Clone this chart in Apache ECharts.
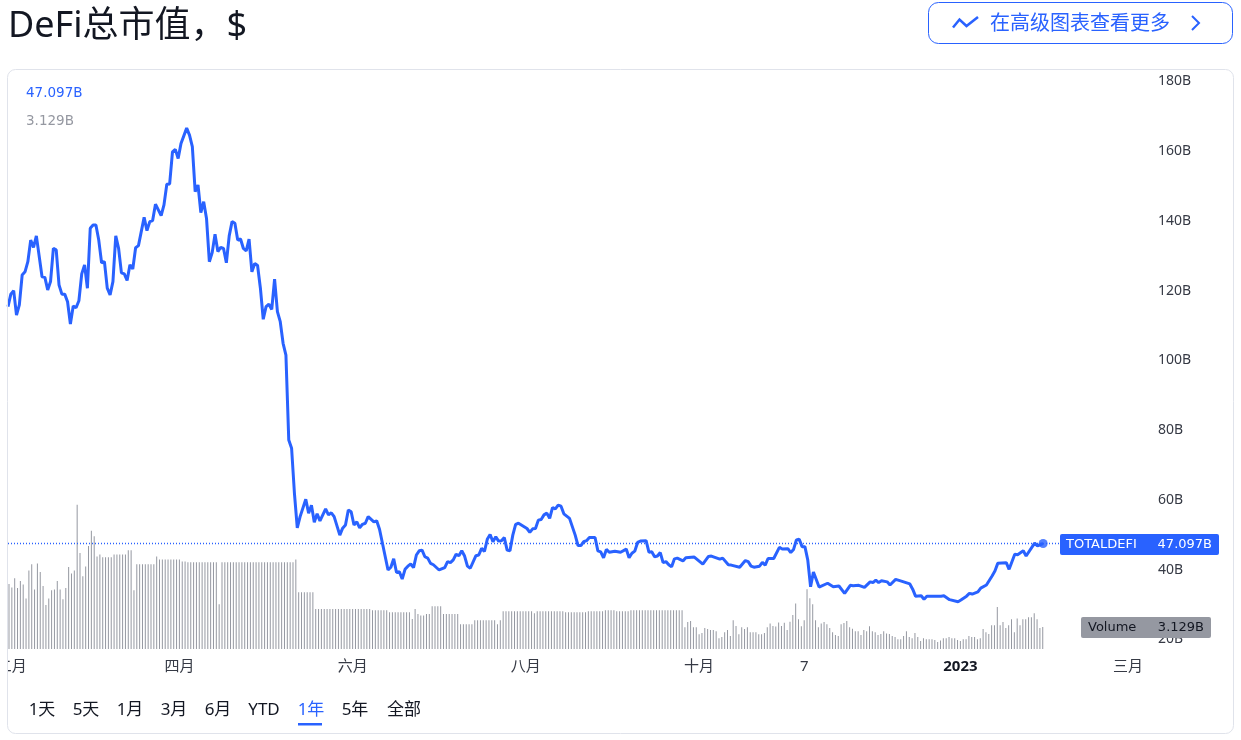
<!DOCTYPE html>
<html>
<head>
<meta charset="utf-8">
<title>DeFi总市值</title>
<script src="https://cdn.jsdelivr.net/npm/echarts@6/dist/echarts.min.js"></script>
<style>
html, body { margin: 0; padding: 0; background: #fff; }
#chart { width: 1241px; height: 740px; }
</style>
</head>
<body>
<div id="chart"></div>
<script>
// days since 30 Jan 2022 and TOTALDEFI value in billions at its turning points
var lineDays = [
    0, 1, 2, 3, 4, 5, 6, 7, 8, 9, 10, 12, 13, 14, 15, 16, 17, 18, 19, 20, 21, 22, 23, 24, 25, 26, 27, 28, 29, 30,
    31, 32, 33, 34, 35, 36, 37, 38, 39, 40, 41, 42, 43, 44, 45, 46, 48, 49, 50, 51, 52, 54, 55, 56, 57, 58, 59, 60, 61, 63,
    64, 65, 66, 67, 68, 69, 70, 71, 72, 73, 74, 75, 76, 77, 78, 79, 80, 81, 82, 83, 84, 85, 86, 87, 88, 89, 90, 91, 92, 93,
    94, 95, 96, 97, 98, 99, 100, 101, 102, 103, 105, 106, 107, 108, 109, 110, 112, 113, 114, 115, 117, 118, 119, 120, 121, 122, 123, 124, 125, 126,
    127, 129, 130, 131, 134, 135, 136, 137, 138, 139, 140, 141, 142, 143, 144, 145, 146, 147, 148, 149, 150, 152, 154, 155, 156, 157, 158, 159, 160, 161,
    162, 163, 165, 166, 167, 168, 169, 170, 171, 172, 173, 174, 175, 176, 177, 178, 179, 180, 182, 183, 184, 185, 186, 187, 188, 189, 190, 191, 192, 193,
    194, 195, 196, 198, 200, 201, 202, 203, 204, 205, 207, 208, 209, 210, 211, 212, 214, 216, 218, 219, 220, 221, 222, 223, 225, 226, 227, 228, 229, 230,
    231, 232, 233, 234, 235, 236, 238, 239, 242, 245, 247, 248, 251, 252, 254, 255, 258, 260, 261, 262, 263, 265, 266, 267, 268, 270, 272, 273, 275, 276,
    277, 278, 279, 280, 281, 282, 283, 284, 286, 289, 291, 293, 295, 297, 298, 300, 302, 304, 305, 306, 307, 308, 310, 311, 313, 315, 318, 319, 320, 322,
    323, 324, 326, 329, 330, 332, 335, 336, 338, 339, 340, 342, 343, 345, 347, 348, 349, 352, 353, 355, 356, 358, 359, 362, 363, 365
];
var lineValues = [
    115.0, 118.6, 119.6, 112.6, 115.5, 124.1, 125.0, 127.9, 134.1, 132.0, 135.3, 123.6, 123.4, 119.8, 122.2, 131.7, 131.3, 121.2, 118.6, 118.6, 116.4, 110.0, 115.2, 114.7, 116.7, 124.4, 127.0, 120.3, 137.5, 138.4,
    138.4, 134.1, 127.6, 127.9, 120.3, 118.4, 122.2, 135.3, 131.7, 124.7, 124.4, 122.5, 127.0, 125.8, 131.9, 132.5, 140.6, 136.8, 139.4, 139.7, 144.4, 141.1, 144.2, 150.1, 150.2, 159.4, 160.1, 157.5, 161.8, 166.2,
    164.2, 160.9, 148.0, 149.9, 142.0, 145.1, 140.3, 127.9, 130.5, 135.8, 130.8, 132.0, 131.7, 127.6, 135.3, 139.4, 138.9, 134.1, 134.4, 131.7, 131.0, 134.4, 125.0, 127.4, 126.8, 120.3, 111.4, 115.0, 115.7, 114.2,
    122.9, 113.6, 110.7, 104.5, 101.1, 76.8, 74.4, 61.5, 51.6, 54.8, 59.8, 55.8, 58.1, 53.2, 55.6, 53.6, 57.0, 55.3, 55.9, 54.8, 49.5, 51.5, 52.4, 56.7, 56.2, 52.4, 53.3, 51.6, 52.6, 52.9,
    54.8, 53.3, 53.6, 51.2, 39.5, 40.3, 42.7, 38.8, 39.0, 36.9, 39.7, 40.6, 41.2, 40.2, 43.8, 45.0, 45.2, 43.3, 42.9, 41.4, 41.0, 39.5, 40.2, 41.9, 41.6, 42.4, 44.0, 43.6, 45.0, 43.5,
    40.6, 40.0, 43.6, 43.8, 45.7, 44.8, 48.3, 49.7, 47.6, 49.0, 47.8, 47.9, 48.8, 45.2, 45.0, 49.5, 52.6, 52.9, 51.9, 51.4, 50.3, 51.3, 51.4, 53.8, 54.0, 55.3, 55.8, 54.3, 57.4, 57.0,
    58.1, 57.8, 55.6, 54.3, 49.5, 46.5, 46.5, 47.6, 47.9, 48.8, 48.8, 45.0, 44.7, 43.0, 45.4, 44.6, 44.9, 44.6, 45.5, 43.0, 44.3, 44.9, 47.4, 47.8, 47.9, 44.6, 44.7, 43.3, 43.5, 44.5,
    41.6, 41.9, 41.0, 40.4, 42.7, 42.9, 42.1, 43.0, 43.2, 41.2, 43.4, 43.5, 42.6, 42.9, 41.0, 40.9, 40.3, 42.2, 41.9, 40.6, 40.3, 40.6, 41.7, 40.9, 42.8, 42.8, 46.0, 45.5, 45.6, 44.5,
    45.4, 48.1, 48.3, 46.2, 46.2, 42.4, 34.7, 38.9, 34.6, 35.7, 34.7, 34.9, 32.8, 35.1, 35.0, 35.1, 34.5, 36.1, 35.9, 36.6, 35.9, 36.4, 36.1, 35.2, 36.8, 36.3, 35.5, 34.0, 32.0, 32.1,
    31.1, 32.0, 32.0, 32.0, 32.1, 31.0, 30.4, 30.9, 32.0, 32.8, 32.6, 33.2, 34.3, 35.2, 37.8, 39.2, 41.4, 41.6, 39.7, 44.0, 43.9, 45.0, 43.5, 47.2, 46.4, 47.097
];

// one bar per day, in billions
var volumeValues = [
    9.3, 8.8, 10.1, 8.7, 9.7, 9.2, 7.2, 11.2, 12.1, 8.5, 12.2, 11.0, 9.0, 6.3, 7.2, 8.4, 8.5, 9.7, 8.5, 7.1, 8.7, 11.7, 10.8, 11.2, 20.6, 13.7, 10.4, 11.8, 14.7, 16.9, 16.1, 13.2, 13.5,
    13.1, 13.1, 13.1, 13.1, 13.5, 13.5, 13.5, 13.5, 13.5, 14.1, 14.1, 8.4,
    12.1, 12.1, 12.1, 12.1, 12.1, 12.1, 12.1, 13.2, 12.8, 12.8, 12.8, 12.8, 12.8, 12.8, 12.8, 12.8, 12.5, 12.5,
    12.4, 12.4, 12.4, 12.4, 12.4, 12.4, 12.4, 12.4, 12.4, 12.4, 12.4, 6.4,
    12.4, 12.4, 12.4, 12.4, 12.4, 12.4, 12.4, 12.4, 12.4, 12.4, 12.4, 12.4, 12.4, 12.4, 12.4, 12.4, 12.4, 12.4, 12.4, 12.4, 12.4, 12.4, 12.4, 12.4, 12.4, 12.4, 12.8,
    8.1, 8.1, 8.1, 8.1, 8.1, 8.1,
    5.7, 5.7, 5.7, 5.7, 5.7, 5.7, 5.7, 5.7, 5.7, 5.7, 5.7, 5.7, 5.7, 5.7, 5.7, 5.7, 5.7, 5.7, 5.7, 5.7,
    5.55, 5.55, 5.55, 5.55, 5.55, 5.55, 5.25, 5.25, 5.25, 5.25, 5.25, 5.25, 5.25, 5.25,
    4.3, 5.7, 5.0, 4.8, 4.8, 5.0, 5.0, 6.1, 6.1, 6.1, 6.1, 5.0, 5.0, 5.0, 5.0, 5.0, 5.0, 3.55, 3.55, 3.55, 3.55, 3.55,
    4.1, 4.1, 4.1, 4.1, 4.1, 4.1, 4.1, 4.1, 3.55, 4.1,
    5.4, 5.4, 5.4, 5.4, 5.4, 5.4, 5.4, 5.4, 5.4, 5.4, 5.4, 5.1, 5.4, 5.4, 5.4, 5.4, 5.4, 5.4, 5.4, 5.4, 5.4, 5.4,
    5.25, 5.25, 5.25, 5.25, 5.25, 5.25, 5.25, 5.25, 5.4, 5.4, 5.4, 5.4, 5.4, 5.4, 5.55, 5.55, 5.55, 5.55, 5.4, 5.4, 5.4, 5.4, 5.4,
    5.55, 5.55, 5.55, 5.55, 5.55, 5.55, 5.55, 5.55, 5.55, 5.55, 5.55, 5.55, 5.55, 5.55, 5.55, 5.55, 5.55, 5.55, 5.55,
    3.1, 3.85, 4.0, 3.1, 3.1, 2.1, 2.3, 3.0, 2.85, 2.7, 2.7, 2.55, 1.55, 1.7, 2.4, 2.7, 1.85, 4.1, 3.3, 2.1, 3.1, 2.85, 3.1, 2.4, 2.4, 2.4, 2.1, 2.1, 2.3, 3.1,
    3.65, 3.3, 3.2, 3.8, 3.3, 3.75, 2.7, 3.9, 4.85, 6.5, 4.25, 3.25, 4.1, 8.55, 7.25, 6.4, 4.1, 3.1, 3.65, 3.85, 3.55, 3.0, 2.4, 2.0, 1.85, 3.55, 3.7, 4.0, 3.1, 2.9, 2.55, 2.55, 2.0,
    2.7, 2.55, 3.25, 2.55, 2.4, 2.0, 2.15, 2.55, 2.2, 2.15, 1.85, 1.7, 1.4, 1.4, 1.85, 2.55, 1.7, 1.55, 2.3, 1.7, 1.15, 1.55, 1.4, 1.4, 1.4, 1.3, 1.0, 1.2, 1.55, 1.55, 1.7, 1.55, 1.55,
    1.3, 1.15, 1.4, 1.4, 1.85, 1.7, 1.7, 1.4, 1.55, 2.85, 2.4, 2.15, 3.4, 3.4, 6.0, 3.4, 3.85, 3.0, 3.4, 4.25, 2.4, 4.35, 3.4, 4.25, 4.25, 4.55, 4.55, 5.1, 4.25, 3.0, 3.129
];

// bar index of each time label, the time scale runs on past the last bar
var timeTicks = [1, 60, 121, 182, 243, 280, 335, 394];
var timeLabels = ['二月', '四月', '六月', '八月', '十月', '7', '2023', '三月'];
var barSlots = 403;
var rangeTabs = ['1天', '5天', '1月', '3月', '6月', 'YTD', '1年', '5年', '全部'];
var rangeCenters = [42, 86, 130, 174, 218, 264, 311, 355, 404];

var lastPrice = lineValues[lineValues.length - 1];
var lastVolume = volumeValues[volumeValues.length - 1];
var BLUE = '#2962ff';
var GREY = '#9598a1';
var INK = '#131722';
var AXIS_INK = '#363a45';
var FONT = '"DejaVu Sans", "Noto Sans CJK SC", sans-serif';
var CJK = '"Noto Sans", "Noto Sans CJK SC", sans-serif';

var slots = [];
for (var s = 0; s < barSlots; s++) {
    var t = timeTicks.indexOf(s);
    slots.push(t >= 0 ? timeLabels[t] : String(s));
}

function txt(x, y, text, size, color, align, family) {
    return {
        type: 'text',
        z: 20,
        style: {
            x: x, y: y, text: text,
            fontSize: size, fontFamily: family || FONT, fill: color,
            align: align || 'left', verticalAlign: 'middle'
        }
    };
}

var graphics = [
    // hides the left part of the first time label, like the chart pane does
    { type: 'rect', z: 10, shape: { x: 0, y: 655, width: 7, height: 25 }, style: { fill: '#fff' } },
    { type: 'rect', z: 11, shape: { x: 7.5, y: 69.5, width: 1226, height: 664, r: 8 }, style: { fill: 'none', stroke: '#e0e3eb', lineWidth: 1 } },
    { type: 'rect', z: 11, shape: { x: 928.5, y: 2.5, width: 304, height: 41, r: 10 }, style: { fill: '#fff', stroke: BLUE, lineWidth: 1 } },
    { type: 'polyline', z: 20, shape: { points: [[953, 27.5], [959.5, 19.5], [966.5, 26], [978, 17]] }, style: { fill: 'none', stroke: BLUE, lineWidth: 2.5 } },
    { type: 'polyline', z: 20, shape: { points: [[1192, 16], [1199, 23], [1192, 30]] }, style: { fill: 'none', stroke: BLUE, lineWidth: 2 } },
    txt(990, 24, '在高级图表查看更多', 20, BLUE, 'left', CJK),
    txt(26, 93, lastPrice.toFixed(3) + 'B', 13.5, BLUE),
    txt(26, 121, lastVolume.toFixed(3) + 'B', 13.5, GREY),
    { type: 'rect', z: 15, shape: { x: 1060, y: 534, width: 159, height: 21, r: 2 }, style: { fill: BLUE } },
    txt(1066, 544.5, 'TOTALDEFI', 13, '#fff'),
    txt(1212, 544.5, lastPrice.toFixed(3) + 'B', 13, '#fff', 'right'),
    { type: 'rect', z: 15, shape: { x: 1081, y: 617, width: 130, height: 21, r: 2 }, style: { fill: GREY } },
    txt(1088, 627.5, 'Volume', 13, INK),
    txt(1204, 627.5, lastVolume.toFixed(3) + 'B', 13, INK, 'right'),
    { type: 'rect', z: 15, shape: { x: 298, y: 723, width: 24, height: 2.5 }, style: { fill: BLUE } }
];
rangeTabs.forEach(function(tab, i) {
    graphics.push(txt(rangeCenters[i], 710, tab, 17, tab === '1年' ? BLUE : INK, 'center', CJK));
});

var chart = echarts.init(document.getElementById('chart'));
chart.setOption({
    animation: false,
    backgroundColor: '#fff',
    title: {
        text: 'DeFi总市值，$',
        left: 3,
        top: 4,
        textStyle: { fontSize: 36, fontWeight: 'normal', color: INK, fontFamily: CJK }
    },
    graphic: graphics,
    grid: [
        { left: 8, top: 80, width: 1142.9, height: 558, outerBoundsMode: 'none' },  // price pane
        { left: 7.58, top: 474, width: 1144.5, height: 175, outerBoundsMode: 'none' }  // volume pane
    ],
    xAxis: [{
        type: 'value',
        gridIndex: 0,
        min: 0,
        max: 403,
        show: false
    }, {
        type: 'category',
        gridIndex: 1,
        data: slots,
        splitLine: { show: false },
        axisLine: { show: false },
        axisTick: { show: false },
        axisLabel: {
            interval: function(index) { return timeTicks.indexOf(index) >= 0; },
            margin: 10,
            fontSize: 15,
            fontFamily: CJK,
            color: AXIS_INK,
            hideOverlap: false,
            formatter: function(v) { return v === '2023' ? '{year|2023}' : v; },
            rich: { year: { fontSize: 15, fontWeight: 'bold', color: INK, fontFamily: CJK } }
        }
    }],
    yAxis: [{
        type: 'value',
        gridIndex: 0,
        position: 'right',
        min: 20,
        max: 180,
        interval: 20,
        splitLine: { show: false },
        axisLine: { show: false },
        axisTick: { show: false },
        axisLabel: {
            margin: 7,
            color: AXIS_INK,
            formatter: '{tick|{value}B}',
            rich: { tick: { fontSize: 14, fontFamily: CJK, color: AXIS_INK, padding: [3, 0, 0, 0] } }
        }
    }, {
        type: 'value',
        gridIndex: 1,
        min: 0,
        max: 25,
        show: false
    }],
    series: [{
        type: 'bar',
        xAxisIndex: 1,
        yAxisIndex: 1,
        barWidth: 1,
        silent: true,
        itemStyle: { color: GREY },
        data: volumeValues
    }, {
        // last price, dotted across the pane
        type: 'line',
        xAxisIndex: 0,
        yAxisIndex: 0,
        showSymbol: false,
        silent: true,
        z: 4,
        lineStyle: { color: BLUE, width: 1.5, type: [1, 2] },
        data: [[0, lastPrice], [403, lastPrice]]
    }, {
        type: 'line',
        xAxisIndex: 0,
        yAxisIndex: 0,
        showSymbol: false,
        z: 5,
        lineStyle: { color: BLUE, width: 3 },
        itemStyle: { color: BLUE },
        data: lineDays.map(function(d, i) { return [d, lineValues[i]]; })
    }, {
        type: 'scatter',
        xAxisIndex: 0,
        yAxisIndex: 0,
        symbolSize: 9,
        z: 6,
        silent: true,
        itemStyle: { color: BLUE },
        data: [[lineDays[lineDays.length - 1], lastPrice]]
    }]
});
window.onresize = chart.resize;
</script>
</body>
</html>
